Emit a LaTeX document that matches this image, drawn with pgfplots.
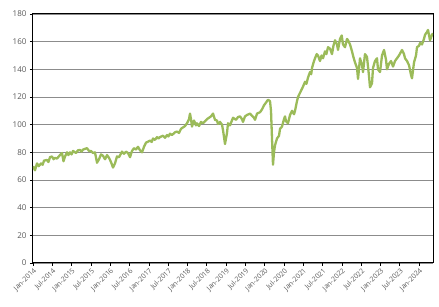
\documentclass[border=0pt]{standalone}
\usepackage{pgfplots}
\pgfplotsset{compat=1.18}
\usepackage{pgfplotstable}
\usepackage{fontspec}
\setmainfont{Open Sans}
\definecolor{linegreen}{HTML}{9BBB59}
\definecolor{labelgray}{HTML}{595959}
\definecolor{gridgray}{HTML}{8C8C8C}
\pgfplotstableread{
m v
0.00 70
0.62 67
1.24 72
1.8 70
2.49 72
3.0 71
3.42 74
4.35 74.5
4.8 73
5.28 76.5
5.91 77
6.4 75
6.84 76
7.46 75.5
8.0 77
8.39 78
9.02 79.5
9.48 73.5
9.95 77
10.57 80
11.0 78
11.50 80
12.0 78.5
12.44 81
13.37 79.5
13.99 81.5
14.61 81.7
15.1 80.5
15.54 82
16.17 82.5
16.79 83
17.41 81
18.03 81
18.65 79.5
19.27 80
19.90 72.5
20.52 75
21.14 78.5
21.76 77.5
22.38 75
23.01 78
23.63 76
24.25 73
24.87 69
25.49 72
26.11 77
26.74 76.5
27.67 80.5
28.29 79
28.91 80.5
29.53 79.5
30.16 76.5
30.78 81
31.40 83
32.02 82
32.64 84
33.26 81.5
33.89 80
34.51 84
35.13 87
35.75 87.7
36.37 88.5
36.9 87.5
37.31 90
37.93 89
38.55 91
39.0 90
39.48 91
40.41 92
41.04 90.5
41.66 92.5
42.1 91.5
42.59 93.5
43.21 92.5
44.15 94.5
44.77 95
45.39 94
46.01 97
46.63 98
47.25 99
47.88 101
48.50 104
48.81 108
49.12 104
49.43 98.6
50.05 103
50.67 99.5
50.98 101
51.61 99
52.23 102
52.85 101
53.47 102.5
54.09 104
54.72 105
55.34 106
55.96 108
56.58 103.5
57.20 103
57.51 100.5
58.13 102
58.76 100
59.07 96
59.69 86
60.31 94
60.62 101
61.24 99.5
62.18 105
63.11 103.5
63.73 105.5
64.35 106
64.97 104
65.28 102
65.91 106
66.53 107
67.46 108
68.08 106.5
68.70 105
69.02 103.5
69.64 108
70.57 109
71.19 111
71.81 114
72.44 116
73.06 118
73.68 117
73.99 110
74.30 90
74.61 71
74.92 80
75.23 85
75.85 90
76.48 92
76.79 97
77.41 98.6
78.03 104
78.34 106
78.65 102.5
79.27 101
79.90 107
80.52 110
81.14 107.5
81.45 110
82.07 117
82.38 120
83.01 123
83.63 126
83.94 127.5
84.56 131
85.0 129.5
85.49 134
86.11 138
86.5 136.5
86.74 141
87.36 146
87.67 148
88.2 151
88.60 150
89.22 146
89.7 150
90.16 148
90.78 153
91.2 151
91.71 156
92.33 155
92.95 151
93.4 157
93.89 161
94.51 158
94.82 154
95.44 162
95.97 164.5
96.37 158
96.99 156
97.62 162
97.93 161
98.55 158
99.17 153
99.48 150
100.10 145
100.73 141
101.04 133
101.66 148
102.28 143
102.59 138
103.21 151
103.83 149
104.46 135
104.77 127
105.39 130
105.70 141
106.32 146
106.94 148
107.25 140
107.88 138
108.50 150
109.12 154
109.74 147
110.05 140
110.67 144
111.30 146
111.92 142
112.54 146
113.16 148
113.78 150
114.72 154
115.34 151
115.65 148
116.27 146
116.89 143
117.51 136
117.82 133.5
118.45 145
119.07 150
119.38 156
120.00 157
120.31 159
120.93 158
121.55 162
121.87 165
122.49 167
122.80 168.5
123.42 161
124.04 165
124.35 166
}\seriesdata
\begin{document}
\begin{tikzpicture}
\begin{axis}[
  scale only axis,
  width=400pt, height=249pt,
  xmin=0, xmax=124.35,
  ymin=0, ymax=180,
  ytick={0,20,...,180},
  xtick={0,6,...,120},
  xticklabels={Jan-2014,Jul-2014,Jan-2015,Jul-2015,Jan-2016,Jul-2016,Jan-2017,Jul-2017,Jan-2018,Jul-2018,Jan-2019,Jul-2019,Jan-2020,Jul-2020,Jan-2021,Jul-2021,Jan-2022,Jul-2022,Jan-2023,Jul-2023,Jan-2024},
  x tick label style={rotate=45, anchor=north east, font=\fontsize{7}{8}\selectfont, text=labelgray, inner sep=1pt},
  y tick label style={font=\fontsize{8}{9}\selectfont, text=labelgray},
  /pgf/number format/assume math mode=true,
  tick align=outside,
  major tick length=3pt,
  tick style={black, line width=0.5pt},
  xtick pos=bottom, ytick pos=left,
  ymajorgrids,
  major grid style={gridgray, line width=0.6pt},
  axis line style={black, line width=1pt},
  clip=true,
]
\addplot[linegreen, line width=2.3pt, line join=round] table[x=m, y=v] {\seriesdata};
\end{axis}
\pgfresetboundingbox
\path (current axis.south west) ++(-33pt,-44pt) coordinate (bbA);
\path (current axis.north east) ++(6pt,14pt) coordinate (bbB);
\path (bbA) rectangle (bbB);
\end{tikzpicture}
\end{document}
